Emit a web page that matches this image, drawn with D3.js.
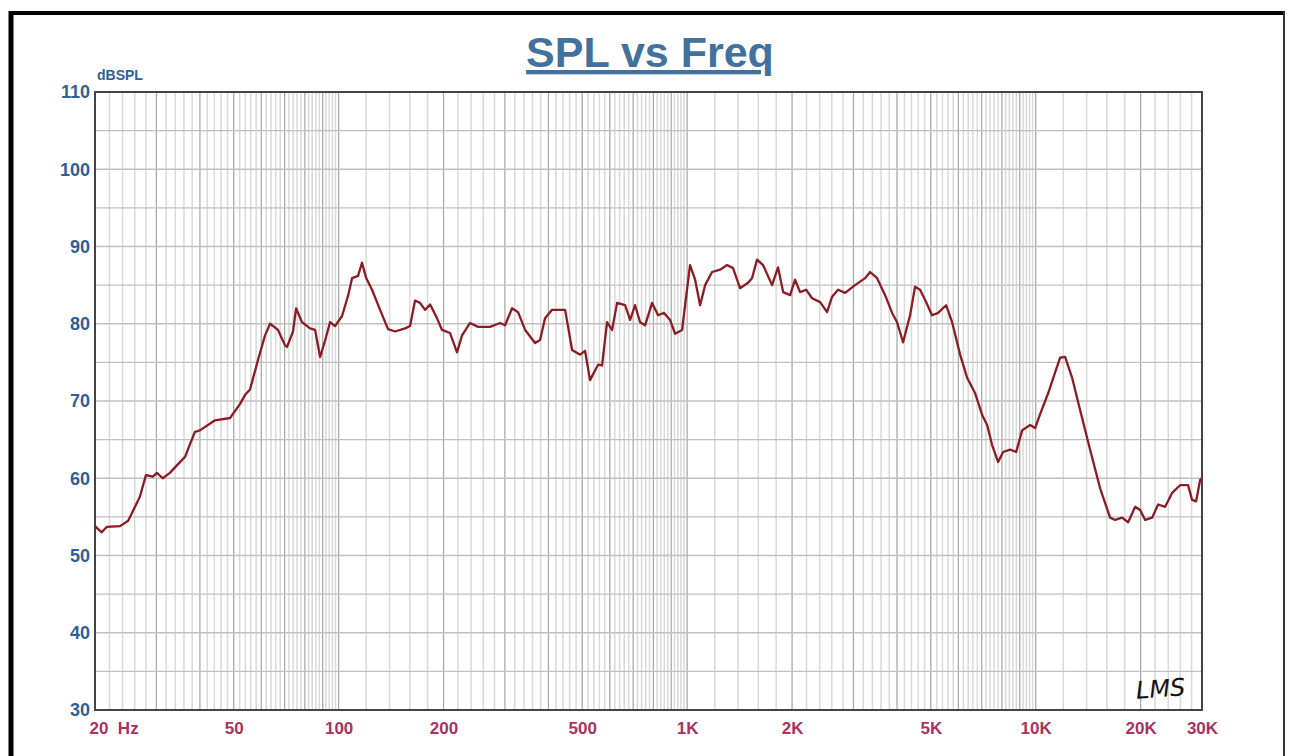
<!DOCTYPE html>
<html>
<head>
<meta charset="utf-8">
<script src="https://cdn.jsdelivr.net/npm/d3@7"></script>
<style>
  body { margin: 0; background: #fff; }
  svg { display: block; font-family: "Liberation Sans", Arial, sans-serif; }
</style>
</head>
<body>
<svg id="chart"></svg>
<script>
const freqs = [20, 20.9, 21.6, 23.6, 24.9, 26.9, 28.0, 29.3, 30.1, 31.3, 32.8, 34.4, 36.3, 37.0, 38.7, 40.0,
  44.2, 48.8, 52.1, 53.9, 55.7, 58.7, 61.5, 63.6, 67.0, 70.2, 71.1, 74.0, 75.5, 78.5, 82.8, 85.6, 88.5,
  91.4, 94.5, 97.7, 102.3, 106.4, 109.3, 113.7, 116.7, 119.8, 124.7, 131.5, 138.6, 145.2, 155.1, 160.3,
  165.7, 171.2, 177.0, 183.0, 191.6, 198.0, 208.8, 218.6, 226.0, 238.3, 251.2, 271.9, 290.5, 300.3,
  314.5, 327.2, 342.8, 366.2, 378.4, 391.1, 409.6, 446.5, 467.6, 493.0, 509.3, 526.5, 555.2, 570.0,
  589.1, 608.9, 629.4, 663.6, 685.9, 708.9, 732.8, 757.4, 793.2, 825.2, 858.6, 893.3, 923.4, 967.1,
  1019, 1054, 1089, 1126, 1179, 1243, 1302, 1354, 1418, 1495, 1535, 1587, 1651, 1752, 1823, 1885,
  1974, 2040, 2108, 2194, 2283, 2407, 2520, 2605, 2710, 2838, 3032, 3240, 3348, 3507, 3698, 3873,
  4002, 4164, 4361, 4507, 4658, 4814, 5042, 5248, 5533, 5756, 6069, 6357, 6702, 7020, 7255, 7498,
  7802, 8064, 8445, 8788, 9142, 9638, 9962, 10296, 10856, 11370, 11750, 12145, 12720, 13412, 14326,
  15304, 16348, 16898, 17700, 18416, 19288, 19936, 20608, 21578, 22450, 23515, 24626, 25960, 27370,
  28100, 28850, 29640, 30000];
const spl = [53.8, 53.0, 53.7, 53.8, 54.5, 57.6, 60.4, 60.2, 60.7, 60.0, 60.7, 61.7, 62.8, 63.8, 66.0, 66.2,
  67.5, 67.8, 69.6, 70.8, 71.5, 75.3, 78.5, 80.0, 79.2, 77.2, 77.0, 79.0, 82.0, 80.2, 79.4, 79.2, 75.7,
  77.8, 80.2, 79.7, 81.0, 83.6, 85.9, 86.2, 87.9, 86.0, 84.4, 81.8, 79.3, 79.0, 79.4, 79.7,
  83.0, 82.7, 81.8, 82.5, 80.7, 79.2, 78.8, 76.3, 78.5, 80.1, 79.6, 79.6, 80.1, 79.8,
  82.0, 81.5, 79.2, 77.5, 77.9, 80.7, 81.8, 81.8, 76.6, 76.0, 76.5, 72.7, 74.7, 74.6,
  80.2, 79.2, 82.7, 82.4, 80.5, 82.4, 80.2, 79.8, 82.7, 81.1, 81.4, 80.5, 78.7, 79.2,
  87.6, 85.7, 82.4, 85.0, 86.7, 87.0, 87.6, 87.2, 84.6, 85.3, 85.9, 88.3, 87.6, 85.0, 87.3, 84.1,
  83.7, 85.7, 84.1, 84.4, 83.3, 82.8, 81.5, 83.5, 84.4, 84.0, 85.0, 85.9, 86.7, 85.9, 83.7, 81.4,
  80.2, 77.6, 81.1, 84.8, 84.4, 83.1, 81.1, 81.4, 82.4, 80.2, 76.0, 73.0, 71.0, 68.2, 66.9, 64.3,
  62.1, 63.4, 63.7, 63.4, 66.2, 66.9, 66.5, 68.3, 71.0, 73.7, 75.6, 75.7, 73.0, 68.8, 63.7,
  58.7, 54.9, 54.6, 54.9, 54.3, 56.3, 55.9, 54.6, 54.9, 56.6, 56.3, 58.1, 59.1, 59.1,
  57.2, 57.0, 59.8, 60.0];

const xTicks = [20, 50, 100, 200, 500, 1000, 2000, 5000, 10000, 20000, 30000];
const xTickLabels = ["20  Hz", "50", "100", "200", "500", "1K", "2K", "5K", "10K", "20K", "30K"];
const yTicks = [30, 40, 50, 60, 70, 80, 90, 100, 110];

const width = 1290, height = 756;
const margin = {top: 92, right: 88, bottom: 46, left: 95};

const svg = d3.select("#chart").attr("width", width).attr("height", height);

const x = d3.scaleLog().domain([20, 30000]).range([margin.left, width - margin.right]);
const y = d3.scaleLinear().domain([30, 110]).range([height - margin.bottom, margin.top]);

// outer frame
svg.append("line").attr("x1", 10).attr("x2", 1284).attr("y1", 13).attr("y2", 13)
  .attr("stroke", "#000").attr("stroke-width", 4);
svg.append("line").attr("x1", 11).attr("x2", 11).attr("y1", 11).attr("y2", height)
  .attr("stroke", "#000").attr("stroke-width", 5);
svg.append("line").attr("x1", 1284).attr("x2", 1284).attr("y1", 11).attr("y2", height)
  .attr("stroke", "#333").attr("stroke-width", 2);

// title
svg.append("text")
  .attr("x", 650).attr("y", 67)
  .attr("text-anchor", "middle")
  .attr("font-size", 43).attr("font-weight", "bold")
  .attr("fill", "#41719c")
  .attr("text-decoration", "underline")
  .text("SPL vs Freq");

// vertical grid: every 0.2 of a decade step, darker on whole multiples
const minor = [], major = [];
[10, 100, 1000, 10000].forEach(dec => {
  d3.range(10, 100, 2).forEach(k => {
    const v = dec * k / 10;
    if (v <= 20 || v >= 30000) return;
    if (k % 10 === 0) major.push(v); else minor.push(v);
  });
});

const grid = svg.append("g");
grid.selectAll("line.minor").data(minor).join("line")
  .attr("class", "minor")
  .attr("x1", d => x(d)).attr("x2", d => x(d))
  .attr("y1", y(110)).attr("y2", y(30))
  .attr("stroke", "#d9d9d9").attr("stroke-width", 1.5);
grid.selectAll("line.major").data(major).join("line")
  .attr("class", "major")
  .attr("x1", d => x(d)).attr("x2", d => x(d))
  .attr("y1", y(110)).attr("y2", y(30))
  .attr("stroke", "#aaaaaa").attr("stroke-width", 1.3);
grid.selectAll("line.h").data(d3.range(35, 110, 5)).join("line")
  .attr("class", "h")
  .attr("x1", x(20)).attr("x2", x(30000))
  .attr("y1", d => y(d)).attr("y2", d => y(d))
  .attr("stroke", "#c0c0c0").attr("stroke-width", 1.3);

// plot border
svg.append("rect")
  .attr("x", x(20)).attr("y", y(110))
  .attr("width", x(30000) - x(20)).attr("height", y(30) - y(110))
  .attr("fill", "none").attr("stroke", "#444").attr("stroke-width", 2);

// response curve
const line = d3.line().x((d, i) => x(freqs[i])).y(d => y(d));
svg.append("path")
  .datum(spl)
  .attr("d", line)
  .attr("fill", "none")
  .attr("stroke", "#8b1c24")
  .attr("stroke-width", 2.3)
  .attr("stroke-linejoin", "round");

// axes
const xAxis = svg.append("g")
  .attr("transform", `translate(0,${y(30)})`)
  .call(d3.axisBottom(x).tickValues(xTicks).tickSize(0).tickPadding(12)
    .tickFormat((d, i) => xTickLabels[i]));
xAxis.select(".domain").remove();
xAxis.selectAll("text")
  .attr("font-size", 17).attr("font-weight", "bold")
  .attr("fill", "#a8325f")
  .attr("font-family", "Liberation Sans, Arial, sans-serif")
  .style("white-space", "pre")
  .attr("text-anchor", (d, i) => i === 0 ? "start" : "middle")
  .attr("dx", (d, i) => i === 0 ? -6 : 0);

const yAxis = svg.append("g")
  .attr("transform", `translate(${x(20)},0)`)
  .call(d3.axisLeft(y).tickValues(yTicks).tickSize(0).tickPadding(5));
yAxis.select(".domain").remove();
yAxis.selectAll("text")
  .attr("font-size", 18).attr("font-weight", "bold")
  .attr("fill", "#2f5f98")
  .attr("font-family", "Liberation Sans, Arial, sans-serif");

svg.append("text")
  .attr("x", 97).attr("y", 80)
  .attr("font-size", 14).attr("font-weight", "bold")
  .attr("fill", "#2f5f98")
  .text("dBSPL");

// LMS mark
svg.append("text")
  .attr("x", 1136).attr("y", 697)
  .attr("font-family", "DejaVu Sans, sans-serif")
  .attr("font-size", 24).attr("font-style", "italic")
  .attr("fill", "#111")
  .attr("transform", "rotate(-4 1160 690)")
  .text("LMS");
</script>
</body>
</html>
